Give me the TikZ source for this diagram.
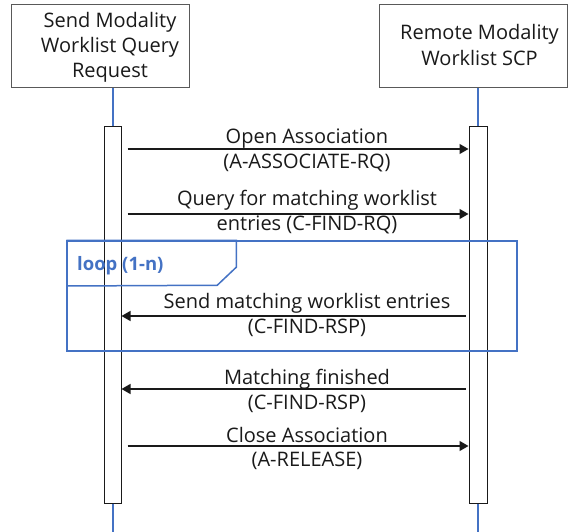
\documentclass[tikz,border=0pt]{standalone}
\usepackage{fontspec}
\setmainfont{Open Sans}
\usetikzlibrary{arrows.meta}
\definecolor{lifeblue}{HTML}{4472C4}
\definecolor{framegrey}{HTML}{595959}
\definecolor{ink}{HTML}{1A1A1A}
\begin{document}
\begin{tikzpicture}[x=1pt,y=-1pt,
  hdr/.style={draw=framegrey,line width=1pt,fill=white,inner sep=0pt},
  act/.style={draw=ink,line width=1pt,fill=white,inner sep=0pt,minimum width=17pt},
  life/.style={draw=lifeblue,line width=2pt},
  msg/.style={draw=ink,line width=1.3pt,-{Triangle[length=9pt,width=10pt]}},
  lbl/.style={anchor=base,inner sep=0pt,font=\fontsize{20}{25}\selectfont,text=ink},
  loopframe/.style={draw=lifeblue,line width=1.5pt}]
\useasboundingbox (0,0) rectangle (568,532);
\fill[white] (0,0) rectangle (568,532);

% header boxes
\node[hdr,minimum width=178pt,minimum height=83pt] (lb) at (100,46.5) {};
\node[hdr,minimum width=188pt,minimum height=83pt] (rb) at (473,46.5) {};
\node[lbl] (lt1) at (110,28) {Send Modality};
\node[lbl] (lt2) at (110,53) {Worklist Query};
\node[lbl] (lt3) at (110,78) {Request};
\node[lbl] (rt1) at (479.5,40) {Remote Modality};
\node[lbl] (rt2) at (479.5,66) {Worklist SCP};

% activation boxes
\coordinate (bot) at (0,532);
\node[act,minimum height=376pt] (la) at (112.5,315) {};
\node[act,minimum height=376pt,minimum width=18pt] (ra) at (478,315) {};

% lifelines
\draw[life] (la.north |- lb.south) -- (la.north);
\draw[life] (ra.north |- rb.south) -- (ra.north);
\draw[life] (la.south) -- (la.south |- bot);
\draw[life] (ra.south) -- (ra.south |- bot);

% loop frame
\node[loopframe,inner sep=0pt,minimum width=450pt,minimum height=110pt] (loop) at (292,296) {};
\coordinate (tabbot) at (0,286);
\draw[loopframe] (loop.north west) -- ++(170,0) -- ++(0,27) -- ++(-19,18) -- (loop.north west |- tabbot);
\node[lbl,anchor=base west,font=\bfseries\fontsize{18.5}{22}\selectfont,text=lifeblue] (looplbl) at (77,270) {loop (1-n)};

% messages
\coordinate (y1) at (0,149);
\coordinate (y2) at (0,214);
\coordinate (y3) at (0,316);
\coordinate (y4) at (0,389);
\coordinate (y5) at (0,446);
\draw[msg,shorten <=6pt] (la.east |- y1) -- (ra.west |- y1);
\draw[msg,shorten <=6pt] (la.east |- y2) -- (ra.west |- y2);
\draw[msg,shorten <=3pt] (ra.west |- y3) -- (la.east |- y3);
\draw[msg,shorten <=3pt] (ra.west |- y4) -- (la.east |- y4);
\draw[msg,shorten <=6pt] (la.east |- y5) -- (ra.west |- y5);

\node[lbl] (m1a) at (307,144) {Open Association};
\node[lbl] (m1b) at (307,168) {(A-ASSOCIATE-RQ)};
\node[lbl] (m2a) at (307,206) {Query for matching worklist};
\node[lbl] (m2b) at (307,230) {entries (C-FIND-RQ)};
\node[lbl] (m3a) at (307,308) {Send matching worklist entries};
\node[lbl] (m3b) at (307,333) {(C-FIND-RSP)};
\node[lbl] (m4a) at (307,384) {Matching finished};
\node[lbl] (m4b) at (307,409) {(C-FIND-RSP)};
\node[lbl] (m5a) at (307,442) {Close Association};
\node[lbl] (m5b) at (307,466) {(A-RELEASE)};
\end{tikzpicture}
\end{document}
